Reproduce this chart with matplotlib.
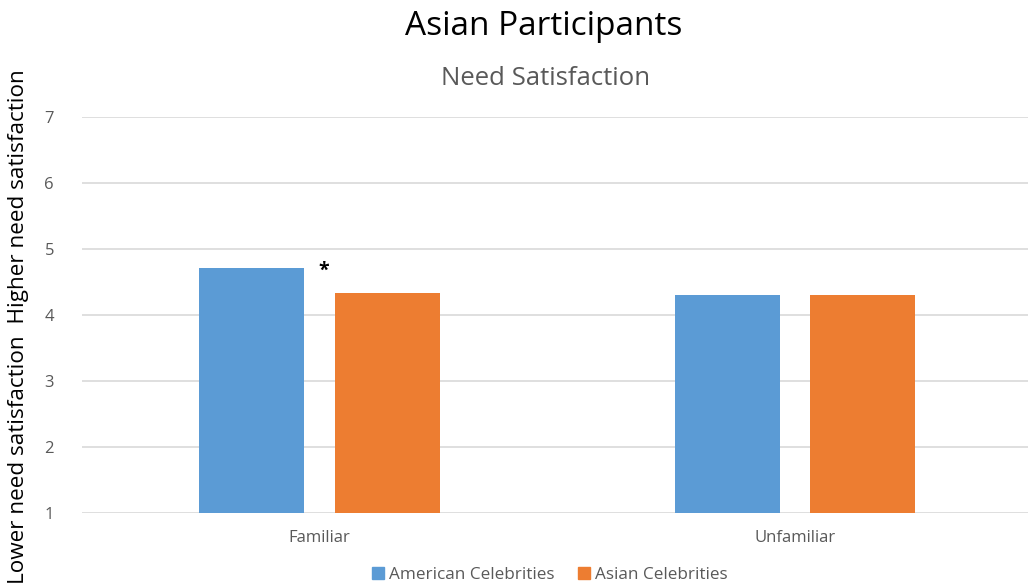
import matplotlib
matplotlib.use("Agg")
import matplotlib.pyplot as plt
import numpy as np

categories = ["Familiar", "Unfamiliar"]
series_names = ["American Celebrities", "Asian Celebrities"]
american = [4.71, 4.30]
asian = [4.34, 4.31]
yticks = [1, 2, 3, 4, 5, 6, 7]

colors = ["#5B9BD5", "#ED7D31"]
grid_color = "#D9D9D9"
tick_color = "#595959"

plt.rcParams["font.family"] = ["Open Sans", "DejaVu Sans"]

fig = plt.figure(figsize=(10.28, 5.88), dpi=100)
ax = fig.add_axes([0.0795, 0.1276, 0.925, 0.6735])

x = np.arange(len(categories))
width = 0.221
offset = 0.1425
ax.bar(x - offset, american, width, bottom=0, color=colors[0], label=series_names[0], zorder=2)
ax.bar(x + offset, asian, width, bottom=0, color=colors[1], label=series_names[1], zorder=2)

ax.set_xlim(-0.5, 1.5)
ax.set_ylim(1, 7)
ax.set_yticks(yticks)
ax.set_xticks(x)
ax.set_xticklabels(categories, fontsize=12)
ax.yaxis.grid(True, color=grid_color, linewidth=1.2, zorder=0)
ax.set_axisbelow(True)
for s in ax.spines.values():
    s.set_visible(False)
ax.tick_params(axis="both", length=0, colors=tick_color)
ax.tick_params(axis="y", pad=20, labelsize=12)
ax.tick_params(axis="x", pad=12)

# significance marker between the Familiar bars
ax.text(x[0] + 0.008, american[0] - 0.04, "*", ha="center", va="center",
        fontsize=14, fontweight="bold", color="black")

fig.text(0.529, 0.955, "Asian Participants", ha="center", va="center",
         fontsize=24, color="black")
fig.text(0.531, 0.867, "Need Satisfaction", ha="center", va="center",
         fontsize=18.5, color="#595959")
fig.text(0.018, 0.444, "Lower need satisfaction  Higher need satisfaction",
         rotation=90, ha="center", va="center", fontsize=16.2, color="black")

handles = [plt.Rectangle((0, 0), 1, 1, color=c) for c in colors]
fig.legend(handles, series_names, loc="center", bbox_to_anchor=(0.535, 0.022),
           ncol=2, frameon=False, fontsize=12.3, handlelength=0.7, handleheight=0.7,
           handletextpad=0.3, columnspacing=1.4, labelcolor=tick_color)

fig.savefig("out.png", dpi=100, facecolor="white")
